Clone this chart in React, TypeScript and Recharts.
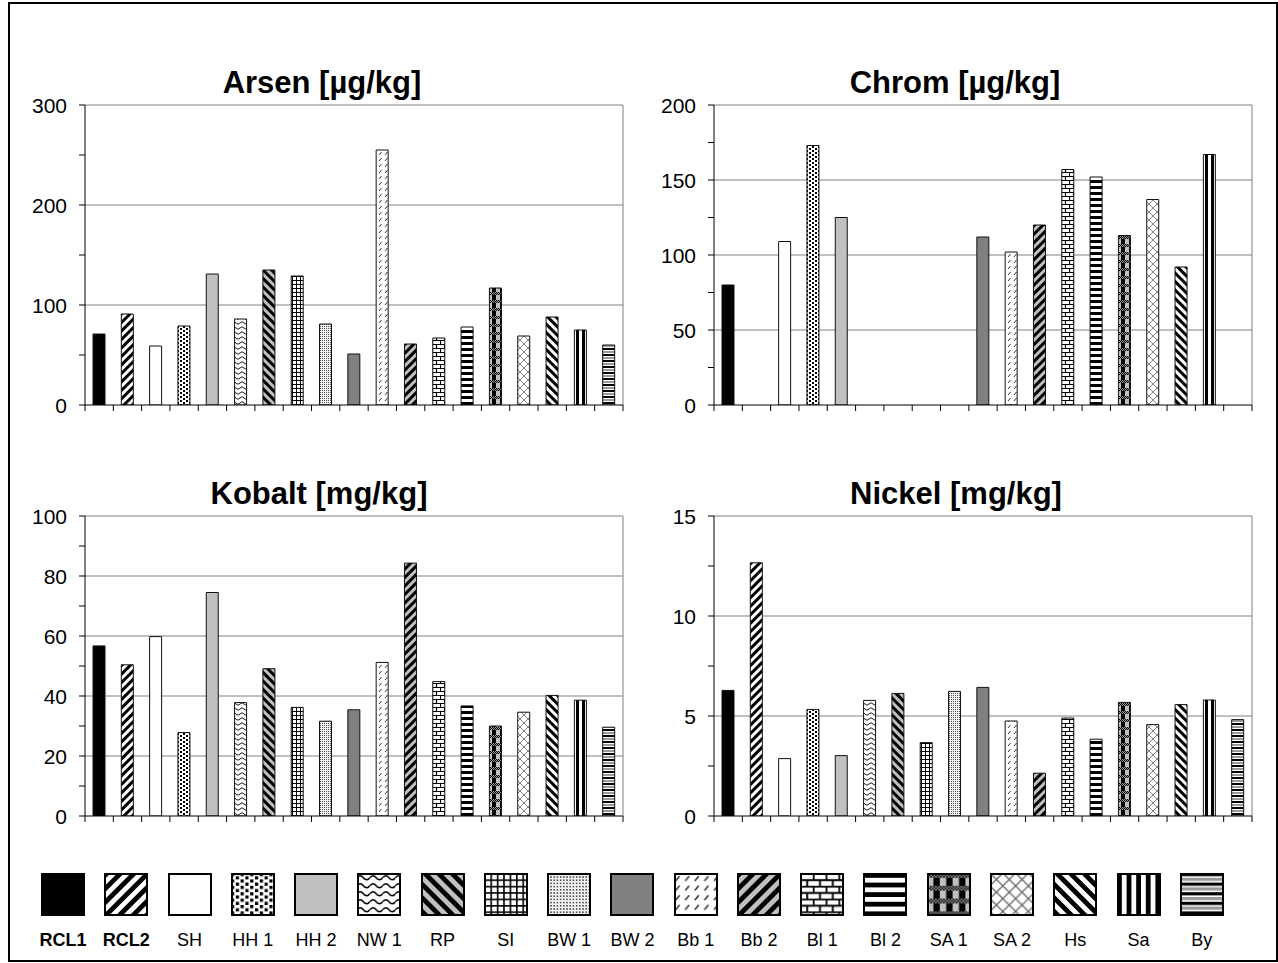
import React from 'react';
import { BarChart, Bar, Cell, XAxis, YAxis, CartesianGrid } from 'recharts';

const SAMPLES = ['RCL1', 'RCL2', 'SH', 'HH 1', 'HH 2', 'NW 1', 'RP', 'SI', 'BW 1', 'BW 2', 'Bb 1', 'Bb 2', 'Bl 1', 'Bl 2', 'SA 1', 'SA 2', 'Hs', 'Sa', 'By'];
const BOLD_SAMPLES = ['RCL1', 'RCL2'];

const ARSEN = [71, 91, 59, 79, 131, 86, 135, 129, 81, 51, 255, 61, 67, 78, 117, 69, 88, 75, 60];
const CHROM = [80, null, 109, 173, 125, null, null, null, null, 112, 102, 120, 157, 152, 113, 137, 92, 167, null];
const KOBALT = [56.7, 50.4, 59.8, 27.8, 74.5, 37.8, 49.1, 36.2, 31.6, 35.4, 51.2, 84.3, 44.8, 36.7, 30.0, 34.6, 40.2, 38.6, 29.6];
const NICKEL = [6.28, 12.66, 2.87, 5.33, 3.02, 5.78, 6.13, 3.67, 6.23, 6.43, 4.75, 2.14, 4.9, 3.84, 5.68, 4.57, 5.57, 5.8, 4.82];

// one fill per sample, plain colours or a pattern id
const FILLS = ['#000000', 'rcl2', '#ffffff', 'hh1', '#c0c0c0', 'nw1', 'rp', 'si', 'bw1', '#808080', 'bb1', 'bb2', 'bl1', 'bl2', 'sa1', 'sa2', 'hs', 'sa', 'by'];

const FONT = "'Liberation Sans', Arial, sans-serif";

const fillFor = (i: number, suffix = '') => (FILLS[i].startsWith('#') ? FILLS[i] : `url(#${FILLS[i]}${suffix})`);

const renderPatterns = (suffix: string, k: number) => {
  const sc = k === 1 ? '' : ` scale(${k})`;
  const pat = (id: string, w: number, h: number, rot: number, children: React.ReactNode) => (
    <pattern
      key={id + suffix}
      id={id + suffix}
      width={w}
      height={h}
      patternUnits="userSpaceOnUse"
      patternTransform={`${rot ? `rotate(${rot})` : ''}${sc}`.trim() || undefined}
    >
      {children}
    </pattern>
  );
  return [
    pat('rcl2', 6, 6, 45, <><rect width={6} height={6} fill="#fff" /><rect width={3} height={6} fill="#000" /></>),
    pat('hh1', 6, 4, 0, <><rect width={6} height={4} fill="#fff" /><rect x={0} y={0} width={2} height={2} fill="#000" /><rect x={3} y={2} width={2} height={2} fill="#000" /></>),
    pat('nw1', 8, 5, 0, <><rect width={8} height={5} fill="#fff" /><path d="M0 3 Q2 0.5 4 3 T8 3" stroke="#000" strokeWidth={0.9} fill="none" /></>),
    pat('rp', 6, 6, -45, <><rect width={6} height={6} fill="#c0c0c0" /><rect width={3} height={6} fill="#000" /></>),
    pat('si', 4, 4, 0, <><rect width={4} height={4} fill="#fff" /><path d="M0 0.5H4M0.5 0V4" stroke="#000" strokeWidth={1} /></>),
    pat('bw1', 2, 2, 0, <><rect width={2} height={2} fill="#f2f2f2" /><rect width={1} height={1} fill="#555" /></>),
    pat('bb1', 6, 6, 0, <><rect width={6} height={6} fill="#fff" /><path d="M1 5L3.5 2" stroke="#333" strokeWidth={1} /></>),
    pat('bb2', 6, 6, 45, <><rect width={6} height={6} fill="#c0c0c0" /><rect width={3} height={6} fill="#000" /></>),
    pat('bl1', 8, 8, 0, <><rect width={8} height={8} fill="#fff" /><path d="M0 0.5H8M0 4.5H8M0.5 0V4.5M4.5 4.5V8" stroke="#000" strokeWidth={1.2} /></>),
    pat('bl2', 6, 6, 0, <><rect width={6} height={6} fill="#fff" /><rect width={6} height={3} fill="#000" /></>),
    pat('sa1', 8, 8, 0, (
      <>
        <rect width={8} height={8} fill="#c0c0c0" />
        <rect x={4} width={4} height={8} fill="#000" />
        <rect y={0} width={8} height={3} fill="#9a9a9a" />
        {[0, 2, 4, 6].map((x) => <rect key={`a${x}`} x={x} y={0} width={1} height={1} fill="#000" />)}
        {[1, 3, 5, 7].map((x) => <rect key={`b${x}`} x={x} y={1} width={1} height={1} fill="#000" />)}
        {[0, 2, 4, 6].map((x) => <rect key={`c${x}`} x={x} y={2} width={1} height={1} fill="#000" />)}
      </>
    )),
    pat('sa2', 8, 8, 0, <><rect width={8} height={8} fill="#fff" /><path d="M0 0L8 8M8 0L0 8" stroke="#666" strokeWidth={0.8} /></>),
    pat('hs', 6, 6, -45, <><rect width={6} height={6} fill="#fff" /><rect width={3} height={6} fill="#000" /></>),
    pat('sa', 6, 6, 0, <><rect width={6} height={6} fill="#fff" /><rect width={3} height={6} fill="#000" /></>),
    pat('by', 6, 6, 0, <><rect width={6} height={6} fill="#fff" /><rect width={6} height={2} fill="#000" /><rect y={3} width={6} height={2} fill="#999" /></>),
  ];
};

const Patterns = () => (
  <svg width={0} height={0} style={{ position: 'absolute' }}>
    <defs>
      {renderPatterns('', 1)}
      {renderPatterns('-lg', 1.6)}
    </defs>
  </svg>
);

interface PanelProps {
  title: string;
  values: (number | null)[];
  max: number;
  major: number;
  minor: number;
  x: number; // plot area left
  y: number; // plot area top
  w: number;
  h: number;
  titleX: number;
  titleY: number;
}

const Y_AXIS_W = 85;
const TOP_GAP = 45;

const Panel: React.FC<PanelProps> = ({ title, values, max, major, minor, x, y, w, h, titleX, titleY }) => {
  const data = SAMPLES.map((name, i) => ({ name, value: values[i] }));
  const ticks: number[] = [];
  for (let v = 0; v <= max + 1e-9; v += minor) ticks.push(Math.round(v * 100) / 100);
  const grid: number[] = [];
  for (let v = major; v <= max + 1e-9; v += major) grid.push(v);
  const band = w / SAMPLES.length;

  const yTick = (props: any) => {
    const { x: tx, y: ty, payload } = props;
    const v = payload.value;
    if (Math.abs(v / major - Math.round(v / major)) > 1e-6) return <g />;
    return (
      <text x={tx} y={ty} dy="0.36em" textAnchor="end" fontSize={21} fill="#000" fontFamily={FONT}>
        {v}
      </text>
    );
  };

  // category ticks sit on the boundaries between samples
  const xTick = (props: any) => {
    const { x: tx, y: ty, index } = props;
    const l = tx - band / 2;
    return (
      <g>
        <line x1={l} x2={l} y1={ty} y2={ty + 6} stroke="#000" strokeWidth={1} />
        {index === SAMPLES.length - 1 && <line x1={tx + band / 2} x2={tx + band / 2} y1={ty} y2={ty + 6} stroke="#000" strokeWidth={1} />}
      </g>
    );
  };

  return (
    <>
      <div
        style={{
          position: 'absolute',
          left: titleX - 250,
          top: titleY,
          width: 500,
          textAlign: 'center',
          fontFamily: FONT,
          fontWeight: 'bold',
          fontSize: 31,
          lineHeight: 1,
          color: '#000',
        }}
      >
        {title}
      </div>
      <div style={{ position: 'absolute', left: x - Y_AXIS_W, top: y - TOP_GAP }}>
        <BarChart
          width={Y_AXIS_W + w + 10}
          height={TOP_GAP + h + 20}
          data={data}
          margin={{ top: TOP_GAP, right: 10, bottom: 0, left: 0 }}
        >
          <CartesianGrid
            horizontalValues={grid}
            verticalCoordinatesGenerator={({ offset }: any) => [offset.left + offset.width]}
            stroke="#808080"
            strokeWidth={1}
          />
          <XAxis
            dataKey="name"
            interval={0}
            height={20}
            tickSize={0}
            tickMargin={0}
            tickLine={false}
            tick={xTick}
            axisLine={{ stroke: '#000', strokeWidth: 1 }}
          />
          <YAxis
            type="number"
            domain={[0, max]}
            ticks={ticks}
            interval={0}
            width={Y_AXIS_W}
            tickSize={6}
            tickMargin={12}
            tickLine={{ stroke: '#000', strokeWidth: 1 }}
            axisLine={{ stroke: '#000', strokeWidth: 1 }}
            tick={yTick}
            allowDataOverflow
          />
          <Bar dataKey="value" barSize={12} stroke="#111" strokeWidth={1} isAnimationActive={false}>
            {data.map((d, i) => (
              <Cell key={d.name} fill={fillFor(i)} />
            ))}
          </Bar>
        </BarChart>
      </div>
    </>
  );
};

const Legend = () => (
  <div
    style={{
      position: 'absolute',
      left: 41,
      top: 873,
      width: 1183,
      display: 'flex',
      justifyContent: 'space-between',
      fontFamily: FONT,
    }}
  >
    {SAMPLES.map((name, i) => (
      <div key={name} style={{ width: 44, display: 'flex', flexDirection: 'column', alignItems: 'center' }}>
        <svg width={44} height={43}>
          <rect x={1} y={1} width={42} height={41} fill={fillFor(i, '-lg')} stroke="#000" strokeWidth={2} />
        </svg>
        <div
          style={{
            marginTop: 15,
            fontSize: 18,
            lineHeight: '18px',
            whiteSpace: 'nowrap',
            fontWeight: BOLD_SAMPLES.includes(name) ? 'bold' : 'normal',
          }}
        >
          {name}
        </div>
      </div>
    ))}
  </div>
);

const App: React.FC = () => (
  <div
    style={{
      position: 'absolute',
      left: 0,
      top: 0,
      width: 1278,
      height: 963,
      background: '#fff',
      fontFamily: FONT,
      overflow: 'hidden',
    }}
  >
    <Patterns />
    <div style={{ position: 'absolute', left: 8, top: 2, width: 1266, height: 956, border: '2px solid #000' }} />
    <Panel title="Arsen [µg/kg]" values={ARSEN} max={300} major={100} minor={50} x={85} y={105} w={538} h={300} titleX={322} titleY={67} />
    <Panel title="Chrom [µg/kg]" values={CHROM} max={200} major={50} minor={25} x={714} y={105} w={538} h={300} titleX={955} titleY={67} />
    <Panel title="Kobalt [mg/kg]" values={KOBALT} max={100} major={20} minor={10} x={85} y={516} w={538} h={300} titleX={319} titleY={478} />
    <Panel title="Nickel [mg/kg]" values={NICKEL} max={15} major={5} minor={2.5} x={714} y={516} w={538} h={300} titleX={956} titleY={478} />
    <Legend />
  </div>
);

export default App;
